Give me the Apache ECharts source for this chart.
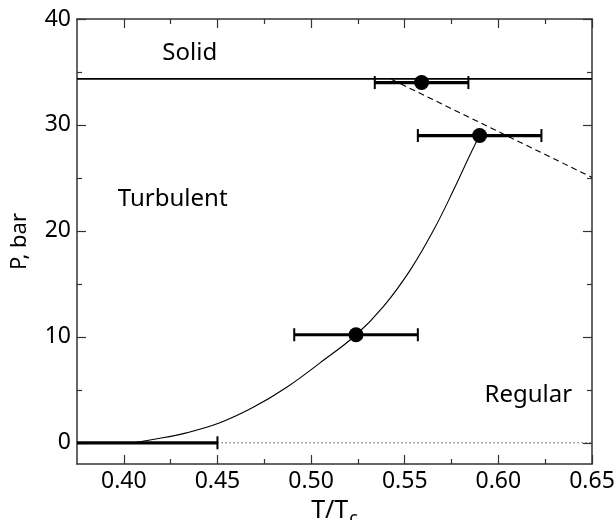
<!DOCTYPE html>
<html>
<head>
<meta charset="utf-8">
<script src="https://cdn.jsdelivr.net/npm/echarts@6/dist/echarts.min.js"></script>
<style>html,body{margin:0;padding:0;background:#fff}#c{width:616px;height:520px}</style>
</head>
<body>
<div id="c"></div>
<script>
// ---- data ----
const xMajorTicks = [0.40, 0.45, 0.50, 0.55, 0.60, 0.65];
const xMinorTicks = [0.425, 0.475, 0.525, 0.575, 0.625];
const yMajorTicks = [0, 10, 20, 30, 40];
const yMinorTicks = [5, 15, 25, 35];

// melting line (solid)
const solidLine = [[0.375, 34.35], [0.65, 34.35]];
// dashed boundary
const dashedLine = [[0.543, 34.3], [0.65, 25.05]];
// dotted zero line
const dottedLine = [[0.45, 0], [0.65, 0]];
// turbulent / regular boundary curve
const curve = [[0.405, 0], [0.4155, 0.31], [0.4334, 0.94], [0.4513, 1.89], [0.4691, 3.35],
  [0.4870, 5.25], [0.5048, 7.55], [0.5241, 10.2], [0.5388, 12.9], [0.5531, 16.35],
  [0.5655, 20.1], [0.5762, 23.9], [0.5852, 27.3], [0.5900, 29.0]];
// measured points [T, P]
const points = [[0.524, 10.2], [0.590, 29.0], [0.559, 34.0]];
// horizontal error bars [T, P, Tlow, Thigh]
const errBars = [[0.405, 0, 0.36, 0.45], [0.524, 10.2, 0.491, 0.557],
  [0.590, 29.0, 0.557, 0.623], [0.559, 34.0, 0.534, 0.584]];
// region labels
const regionLabels = [
  {name: 'Solid', value: [0.4352, 36.8]},
  {name: 'Turbulent', value: [0.4261, 23.0]},
  {name: 'Regular', value: [0.616, 4.5]}
];

const FONT = 'Noto Sans';
const axisCol = '#333';
const chart = echarts.init(document.getElementById('c'), null, {renderer: 'canvas'});

function xAx(pos, ticks, len, labels, line) {
  return {
    type: 'value', position: pos, min: 0.375, max: 0.65,
    axisLine: {show: line, onZero: false, lineStyle: {color: axisCol, width: 1.5}},
    axisTick: {show: true, inside: true, length: len, customValues: ticks, lineStyle: {color: axisCol, width: 1.2}},
    axisLabel: labels ? {show: true, customValues: ticks, formatter: v => v.toFixed(2), color: '#000',
      fontFamily: FONT, fontSize: 23, margin: 6} : {show: false},
    splitLine: {show: false}
  };
}
function yAx(pos, ticks, len, labels, line) {
  return {
    type: 'value', position: pos, min: -2, max: 40,
    axisLine: {show: line, onZero: false, lineStyle: {color: axisCol, width: 1.5}},
    axisTick: {show: true, inside: true, length: len, customValues: ticks, lineStyle: {color: axisCol, width: 1.2}},
    axisLabel: labels ? {show: true, customValues: ticks, color: '#000', fontFamily: FONT, fontSize: 23, margin: 6} : {show: false},
    splitLine: {show: false}
  };
}

const xAxes = [
  Object.assign(xAx('bottom', xMajorTicks, 9, true, true), {
    name: '{m|T/T}{s|c}', nameLocation: 'middle', nameGap: 22,
    nameTextStyle: {color: '#000', fontFamily: FONT, fontSize: 25, verticalAlign: 'top', lineHeight: 30,
      rich: {
        m: {fontFamily: FONT, fontSize: 25, color: '#000', lineHeight: 30, verticalAlign: 'top'},
        s: {fontFamily: FONT, fontSize: 18, color: '#000', lineHeight: 18, verticalAlign: 'bottom', padding: [12, 0, 0, 1]}
      }}
  }),
  xAx('bottom', xMinorTicks, 5, false, false),
  xAx('top', xMajorTicks, 9, false, true),
  xAx('top', xMinorTicks, 5, false, false)
];
const yAxes = [
  Object.assign(yAx('left', yMajorTicks, 9, true, true), {
    name: 'P, bar', nameLocation: 'middle', nameGap: 46,
    nameTextStyle: {color: '#000', fontFamily: FONT, fontSize: 22}
  }),
  yAx('left', yMinorTicks, 5, false, false),
  yAx('right', yMajorTicks, 9, false, true),
  yAx('right', yMinorTicks, 5, false, false)
];

function errRender(params, api) {
  const y = api.value(1), lo = api.value(2), hi = api.value(3);
  const p1 = api.coord([lo, y]), p2 = api.coord([hi, y]);
  const cs = params.coordSys;
  const h = 6.5;
  return {
    type: 'group',
    clipPath: {type: 'rect', shape: {x: cs.x, y: cs.y, width: cs.width, height: cs.height}},
    children: [
      {type: 'line', shape: {x1: p1[0], y1: p1[1], x2: p2[0], y2: p2[1]}, style: {stroke: '#000', lineWidth: 3.2}},
      {type: 'line', shape: {x1: p1[0], y1: p1[1] - h, x2: p1[0], y2: p1[1] + h}, style: {stroke: '#000', lineWidth: 2}},
      {type: 'line', shape: {x1: p2[0], y1: p2[1] - h, x2: p2[0], y2: p2[1] + h}, style: {stroke: '#000', lineWidth: 2}}
    ]
  };
}

chart.setOption({
  animation: false,
  backgroundColor: '#fff',
  grid: {left: 77, right: 24, top: 19, bottom: 56, containLabel: false, outerBoundsMode: 'none'},
  xAxis: xAxes,
  yAxis: yAxes,
  series: [
    {type: 'line', data: dottedLine, symbol: 'none', lineStyle: {color: '#555', width: 1, type: [1.5, 2.5]}},
    {type: 'line', data: solidLine, symbol: 'none', lineStyle: {color: '#000', width: 1.6}},
    {type: 'line', data: dashedLine, symbol: 'none', lineStyle: {color: '#000', width: 1.1, type: [6, 4]}},
    {type: 'line', data: curve, symbol: 'none', smooth: 0.4, lineStyle: {color: '#000', width: 1.1}},
    {type: 'custom', data: errBars, renderItem: errRender, z: 5},
    {type: 'scatter', data: points, symbol: 'circle', symbolSize: 15, itemStyle: {color: '#000', opacity: 1}, z: 6},
    {type: 'scatter', data: regionLabels, symbolSize: 0, z: 7, itemStyle: {opacity: 1},
      label: {show: true, position: 'inside', formatter: '{b}', color: '#000', opacity: 1, fontFamily: FONT, fontSize: 24}}
  ]
});
</script>
</body>
</html>
